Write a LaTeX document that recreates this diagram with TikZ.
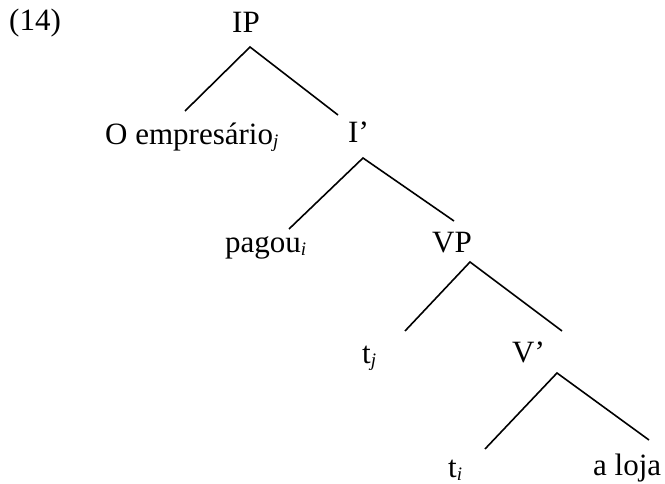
\documentclass[tikz,border=0pt]{standalone}
\usepackage{fontspec}
\setmainfont{Liberation Serif}
\newcommand\sbx[1]{\raisebox{-3pt}{\fontsize{19}{19}\selectfont\itshape #1}}
\begin{document}
\begin{tikzpicture}[x=1pt,y=-1pt,
  lbl/.style={inner sep=0pt,anchor=base west,font=\fontsize{31}{37}\selectfont},
  branch/.style={line width=1.6pt}]
\useasboundingbox (0,0) rectangle (665,484);
\node[lbl] (ex) at (9,31) {(14)};
\node[lbl] (IP) at (232,33) {IP};
\node[lbl] (Oemp) at (105,145) {O empresário\sbx{j}};
\node[lbl] (Ibar) at (348,143) {I’};
\node[lbl] (pagou) at (225,253) {pagou\sbx{i}};
\node[lbl] (VP) at (432,253) {VP};
\node[lbl] (tj) at (362,363) {t\sbx{j}};
\node[lbl] (Vbar) at (512,362) {V’};
\node[lbl] (ti) at (448,477) {t\sbx{i}};
\node[lbl] (aloja) at (593,475) {a loja};
\draw[branch] ([shift={(80,-34)}]Oemp.base west) -- ([shift={(18,14)}]IP.base west) -- ([shift={(-10,-28)}]Ibar.base west);
\draw[branch] ([shift={(64,-24)}]pagou.base west) -- ([shift={(15,15)}]Ibar.base west) -- ([shift={(22,-32)}]VP.base west);
\draw[branch] ([shift={(43,-32)}]tj.base west) -- ([shift={(38,9)}]VP.base west) -- ([shift={(50,-31)}]Vbar.base west);
\draw[branch] ([shift={(37,-28)}]ti.base west) -- ([shift={(45,11)}]Vbar.base west) -- ([shift={(56,-35)}]aloja.base west);
\end{tikzpicture}
\end{document}
